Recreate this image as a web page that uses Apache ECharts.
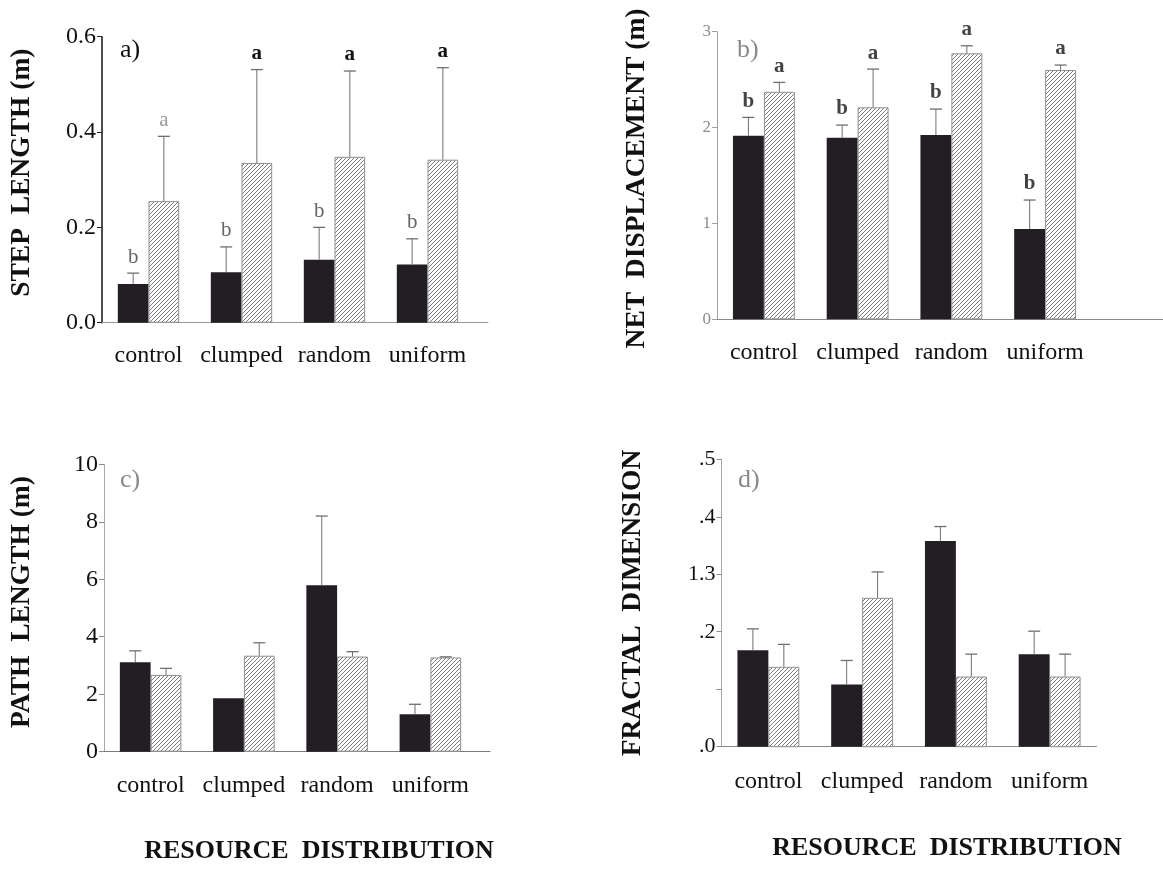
<!DOCTYPE html>
<html>
<head>
<meta charset="utf-8">
<script src="https://cdn.jsdelivr.net/npm/echarts@6/dist/echarts.min.js"></script>
<style>
html,body{margin:0;padding:0;background:#fff;}
#chart{width:1163px;height:883px;}
</style>
</head>
<body>
<div id="chart"></div>
<script>
// ---------- DATA ----------
const categories = ['control', 'clumped', 'random', 'uniform'];

// a) step length (m)
const stepBlack     = [0.081, 0.106, 0.132, 0.122];
const stepBlackErr  = [0.104, 0.159, 0.200, 0.176];
const stepHatch     = [0.255, 0.335, 0.348, 0.342];
const stepHatchErr  = [0.391, 0.531, 0.528, 0.535];
const stepLetBlack  = ['b', 'b', 'b', 'b'];
const stepLetHatch  = ['a', 'a', 'a', 'a'];

// b) net displacement (m)
const netBlack      = [1.915, 1.894, 1.922, 0.942];
const netBlackErr   = [2.106, 2.026, 2.193, 1.244];
const netHatch      = [2.373, 2.211, 2.774, 2.600];
const netHatchErr   = [2.471, 2.610, 2.853, 2.652];
const netLetBlack   = ['b', 'b', 'b', 'b'];
const netLetHatch   = ['a', 'a', 'a', 'a'];

// c) path length (m)
const pathBlack     = [3.11, 1.86, 5.79, 1.30];
const pathBlackErr  = [3.51, null, 8.20, 1.65];
const pathHatch     = [2.67, 3.34, 3.31, 3.28];
const pathHatchErr  = [2.90, 3.79, 3.48, 3.30];

// d) fractal dimension
const fracBlack     = [1.168, 1.108, 1.358, 1.161];
const fracBlackErr  = [1.205, 1.150, 1.383, 1.201];
const fracHatch     = [1.139, 1.259, 1.122, 1.122];
const fracHatchErr  = [1.178, 1.304, 1.161, 1.161];

const stepTicks = ['0.0', '0.2', '0.4', '0.6'];
const netTicks  = ['0', '1', '2', '3'];
const pathTicks = ['0', '2', '4', '6', '8', '10'];
const fracTicks = ['.0', '', '.2', '1.3', '.4', '.5'];

const xTitle = 'RESOURCE  DISTRIBUTION';

// ---------- STYLE ----------
const SERIF = "'Liberation Serif', 'Times New Roman', serif";
const BLACK = '#221e24';

function hatchCanvas() {
  const c = document.createElement('canvas');
  c.width = 4; c.height = 4;
  const g = c.getContext('2d');
  g.fillStyle = '#ffffff';
  g.fillRect(0, 0, 4, 4);
  g.strokeStyle = '#7d7d7d';
  g.lineWidth = 1;
  g.beginPath();
  g.moveTo(-1, 5); g.lineTo(5, -1);
  g.moveTo(-1, 1); g.lineTo(1, -1);
  g.moveTo(3, 5); g.lineTo(5, 3);
  g.stroke();
  return c;
}
const hatch = { image: hatchCanvas(), repeat: 'repeat' };

const chart = echarts.init(document.getElementById('chart'), null, { renderer: 'canvas' });

const panels = [
  { key: 'a', name: 'STEP  LENGTH (m)', left: 102, width: 372, top: 36.7, height: 286, ext: 488,
    min: 0, max: 0.6, interval: 0.2, ticks: stepTicks,
    black: stepBlack, blackErr: stepBlackErr, hatch: stepHatch, hatchErr: stepHatchErr,
    letB: stepLetBlack, letH: stepLetHatch,
    letStyleB: [{c:'#666', w:'normal'},{c:'#666', w:'normal'},{c:'#666', w:'normal'},{c:'#666', w:'normal'}],
    letStyleH: [{c:'#9a9a9a', w:'normal'},{c:'#111', w:'bold'},{c:'#111', w:'bold'},{c:'#111', w:'bold'}],
    yLineColor: '#222', yLineWidth: 1.6, xLineColor: '#9a9a9a', tickColor: '#222', labelColor: '#111', labelSize: 24,
    nameGap: 66, namePad: [0, 0, 0, 14], labelMargin: 21 },
  { key: 'b', name: 'NET  DISPLACEMENT (m)', left: 717, width: 375, top: 31.7, height: 287.6, ext: 1163,
    min: 0, max: 3, interval: 1, ticks: netTicks,
    black: netBlack, blackErr: netBlackErr, hatch: netHatch, hatchErr: netHatchErr,
    letB: netLetBlack, letH: netLetHatch,
    letStyleB: [{c:'#444', w:'bold'},{c:'#444', w:'bold'},{c:'#444', w:'bold'},{c:'#444', w:'bold'}],
    letStyleH: [{c:'#444', w:'bold'},{c:'#444', w:'bold'},{c:'#444', w:'bold'},{c:'#444', w:'bold'}],
    yLineColor: '#a0a0a0', yLineWidth: 1, xLineColor: '#8a8a8a', tickColor: '#a0a0a0', labelColor: '#8c8c8c', labelSize: 17,
    nameGap: 66, namePad: [0, 6, 0, 0], labelMargin: 21 },
  { key: 'c', name: 'PATH  LENGTH (m)', left: 104, width: 373, top: 464.3, height: 287.4, ext: 490,
    min: 0, max: 10, interval: 2, ticks: pathTicks,
    black: pathBlack, blackErr: pathBlackErr, hatch: pathHatch, hatchErr: pathHatchErr,
    letB: null, letH: null,
    yLineColor: '#a8a8a8', yLineWidth: 1, xLineColor: '#7a7a7a', tickColor: '#888', labelColor: '#111', labelSize: 24,
    nameGap: 68, namePad: [0, 0, 0, 12], labelMargin: 22 },
  { key: 'd', name: 'FRACTAL  DIMENSION', left: 721.5, width: 375, top: 459.3, height: 287.4, ext: null,
    min: 1.0, max: 1.5, interval: 0.1, ticks: fracTicks,
    black: fracBlack, blackErr: fracBlackErr, hatch: fracHatch, hatchErr: fracHatchErr,
    letB: null, letH: null,
    yLineColor: '#a8a8a8', yLineWidth: 1, xLineColor: '#8a8a8a', tickColor: '#888', labelColor: '#111', labelSize: 22,
    nameGap: 75, namePad: [0, 0, 0, 0], labelMargin: 23 }
];

const grid = [], xAxis = [], yAxis = [], series = [];

panels.forEach((p, i) => {
  grid.push({ left: p.left, top: p.top, width: p.width, height: p.height, containLabel: false });
  xAxis.push({
    type: 'category', gridIndex: i, data: categories,
    axisLine: { show: p.ext === null, lineStyle: { color: p.xLineColor, width: 1 } },
    axisTick: { show: false },
    axisLabel: { color: '#111', fontFamily: SERIF, fontSize: 24, margin: p.labelMargin, interval: 0 }
  });
  yAxis.push({
    type: 'value', gridIndex: i, min: p.min, max: p.max, interval: p.interval,
    name: p.name, nameLocation: 'middle', nameGap: p.nameGap, nameRotate: 90,
    nameTextStyle: { fontFamily: SERIF, fontWeight: 'bold', fontSize: 27.5, color: '#111', padding: p.namePad },
    axisLine: { show: true, lineStyle: { color: p.yLineColor, width: p.yLineWidth } },
    axisTick: { show: true, length: 5, inside: false, lineStyle: { color: p.tickColor, width: 1 } },
    splitLine: { show: false },
    axisLabel: {
      fontFamily: SERIF, fontSize: p.labelSize, color: p.labelColor, margin: 6,
      formatter: (v) => p.ticks[Math.round((v - p.min) / p.interval)]
    }
  });

  series.push({
    type: 'bar', xAxisIndex: i, yAxisIndex: i, data: p.black,
    barGap: '0%', barCategoryGap: '34%',
    itemStyle: { color: BLACK }, z: 2, silent: true
  });
  series.push({
    type: 'bar', xAxisIndex: i, yAxisIndex: i, data: p.hatch,
    barGap: '0%', barCategoryGap: '34%',
    itemStyle: { color: hatch, borderColor: '#8f8f8f', borderWidth: 1 }, z: 2, silent: true
  });

  // error bars (+ significance letters)
  const items = [];
  const styles = [];
  [[p.black, p.blackErr, p.letB, p.letStyleB], [p.hatch, p.hatchErr, p.letH, p.letStyleH]].forEach((arr, g) => {
    arr[0].forEach((v, k) => {
      if (arr[1][k] == null) return;
      items.push([k, g, v, arr[1][k]]);
      styles.push(arr[2] ? { t: arr[2][k], c: arr[3][k].c, w: arr[3][k].w } : null);
    });
  });
  series.push({
    type: 'custom', xAxisIndex: i, yAxisIndex: i, z: 3, silent: true,
    encode: { x: 0, y: 3 },
    data: items,
    renderItem: (params, api) => {
      const cat = api.value(0), g = api.value(1);
      const band = api.size([1, 0])[0];
      const bw = band * 0.33;
      const base = api.coord([cat, api.value(2)]);
      const top = api.coord([cat, api.value(3)]);
      const x = base[0] + (g === 0 ? -bw / 2 : bw / 2);
      const children = [
        { type: 'line', shape: { x1: x, y1: base[1], x2: x, y2: top[1] }, style: { stroke: '#6f6f6f', lineWidth: 1 } },
        { type: 'line', shape: { x1: x - 6, y1: top[1], x2: x + 6, y2: top[1] }, style: { stroke: '#6f6f6f', lineWidth: 1.3 } }
      ];
      const st = styles[params.dataIndex];
      if (st) {
        children.push({ type: 'text', x: x, y: top[1] - 16,
          style: { text: st.t, fill: st.c, font: st.w + ' 21px ' + SERIF, align: 'center', verticalAlign: 'middle' } });
      }
      return { type: 'group', children };
    }
  });
});

// frame grids: extended baseline of panels a, b, c
panels.forEach((p, i) => {
  if (p.ext === null) return;
  const gi = grid.length;
  grid.push({ left: p.left, top: p.top, width: p.ext - p.left, height: p.height });
  xAxis.push({ type: 'value', gridIndex: gi, min: 0, max: 1,
    axisLine: { show: true, lineStyle: { color: p.xLineColor, width: 1 } },
    axisTick: { show: false }, axisLabel: { show: false }, splitLine: { show: false } });
  yAxis.push({ type: 'value', gridIndex: gi, min: 0, max: 1, show: false });
});

const option = {
  animation: false,
  backgroundColor: '#ffffff',
  grid, xAxis, yAxis, series,
  graphic: [
    { type: 'text', left: 120, top: 37, style: { text: 'a)', fill: '#111', font: '26px ' + SERIF } },
    { type: 'text', left: 737, top: 37, style: { text: 'b)', fill: '#8a8a8a', font: '26px ' + SERIF } },
    { type: 'text', left: 120, top: 467, style: { text: 'c)', fill: '#8a8a8a', font: '26px ' + SERIF } },
    { type: 'text', left: 738, top: 467, style: { text: 'd)', fill: '#8a8a8a', font: '26px ' + SERIF } },
    { type: 'text', x: 319, y: 851, style: { text: xTitle, fill: '#111', font: 'bold 26px ' + SERIF, align: 'center', verticalAlign: 'middle' } },
    { type: 'text', x: 947, y: 848, style: { text: xTitle, fill: '#111', font: 'bold 26px ' + SERIF, align: 'center', verticalAlign: 'middle' } }
  ]
};
chart.setOption(option);
</script>
</body>
</html>
